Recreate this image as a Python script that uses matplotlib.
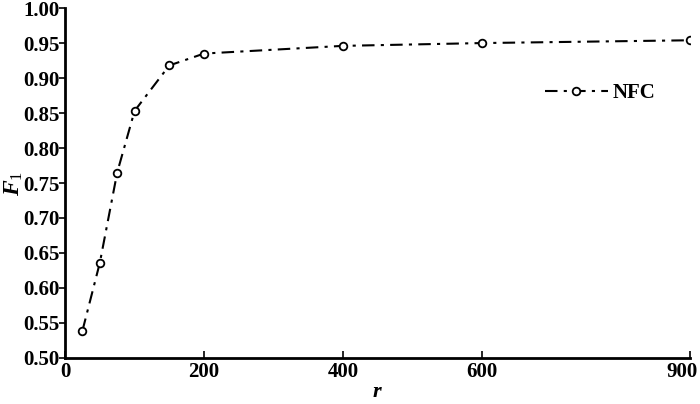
import numpy as np
import matplotlib
matplotlib.use('Agg')
from matplotlib import pyplot as plt
from matplotlib import transforms

# data
r = [25, 50, 75, 100, 150, 200, 400, 600, 900]
f1 = [0.539, 0.636, 0.765, 0.853, 0.918, 0.935, 0.946, 0.950, 0.954]
xticks = [0, 200, 400, 600, 900]
yticks = np.arange(0.50, 1.001, 0.05)

plt.rcParams['font.family'] = ['Liberation Serif', 'DejaVu Serif']
plt.rcParams['mathtext.fontset'] = 'custom'
plt.rcParams['mathtext.it'] = 'Liberation Serif:italic:bold'
plt.rcParams['mathtext.rm'] = 'Liberation Serif'

fig = plt.figure(figsize=(7, 4.04), dpi=100)
ax = fig.add_axes([0.093, 0.114, 0.893, 0.866])

ax.plot(r, f1, color='black', linestyle=(0, (6, 3, 1.5, 3)), linewidth=1.5,
        marker='o', markersize=5.5, markerfacecolor='white',
        markeredgecolor='black', markeredgewidth=1.3, label='NFC')

ax.set_xlim(0, 900)
ax.set_ylim(0.50, 1.00)
ax.set_xticks(xticks)
ax.set_yticks(yticks)
ax.set_yticklabels(['%.2f' % v for v in yticks])

for s in ['top', 'right']:
    ax.spines[s].set_visible(False)
for s in ['left', 'bottom']:
    ax.spines[s].set_linewidth(2)

ax.tick_params(axis='x', direction='in', length=5, width=1.2, labelsize=15, pad=3)
ax.tick_params(axis='y', direction='out', length=4, width=1.2, labelsize=15, pad=0)
for lab in ax.get_xticklabels() + ax.get_yticklabels():
    lab.set_fontweight('bold')

# last x label sits left of its tick so it stays inside the figure
last = ax.get_xticklabels()[-1]
last.set_horizontalalignment('right')
last.set_transform(last.get_transform() + transforms.ScaledTranslation(7 / 100, 0, fig.dpi_scale_trans))

ax.set_xlabel('$r$', fontsize=16, labelpad=1)
ax.set_ylabel('$F_1$', fontsize=17, labelpad=-1)

ax.legend(loc='center left', bbox_to_anchor=(0.738, 0.757), frameon=False,
          prop={'weight': 'bold', 'size': 15}, handlelength=3.0,
          handletextpad=0.25, borderpad=0.4)

plt.savefig('out.png', dpi=100)
